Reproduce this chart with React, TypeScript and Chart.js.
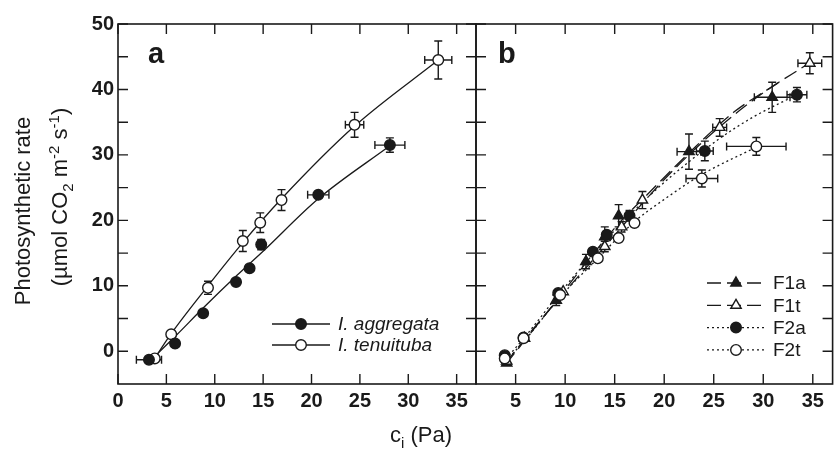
import React, { useEffect, useRef } from "react";
import { Chart, registerables } from "chart.js";
Chart.register(...registerables);

const FONT = "'Liberation Sans', Arial, Helvetica, sans-serif";
const INK = "#1a1a1a";

// ---------- Panel a ----------
const xTicksA = [0, 5, 10, 15, 20, 25, 30, 35];
const xTicksB = [5, 10, 15, 20, 25, 30, 35];
const yTickLabels = [0, 10, 20, 30, 40, 50];
const yMinorTicks = [5, 15, 25, 35, 45];

const aggX = [3.2, 5.9, 8.8, 12.2, 13.6, 14.8, 20.7, 28.1];
const aggY = [-1.3, 1.2, 5.8, 10.6, 12.7, 16.3, 23.9, 31.5];
const aggXErr = [1.3, 0, 0, 0, 0, 0, 1.1, 1.55];
const aggYErr = [0, 0, 0, 0, 0, 0.8, 0, 1.1];

const tenX = [3.8, 5.5, 9.3, 12.9, 14.7, 16.9, 24.45, 33.1];
const tenY = [-1.1, 2.6, 9.7, 16.85, 19.65, 23.1, 34.6, 44.5];
const tenXErr = [0, 0, 0, 0, 0, 0, 0.95, 1.4];
const tenYErr = [0, 0, 1.0, 1.6, 1.5, 1.6, 1.9, 2.9];

const aggCurveX = [3.3, 6, 8.8, 12.3, 14.8, 20.7, 28.1];
const aggCurveY = [-1.5, 2.4, 6.6, 11.6, 15.0, 23.3, 31.4];
const tenCurveX = [3.6, 5.5, 9.3, 12.9, 16.9, 24.45, 33.1];
const tenCurveY = [-1.5, 2.7, 10.0, 16.6, 23.3, 34.4, 44.5];

// ---------- Panel b ----------
const f1aX = [4.1, 9.1, 12.1, 14.0, 15.4, 22.5, 30.9];
const f1aY = [-1.8, 7.8, 13.7, 17.5, 20.7, 30.5, 38.8];
const f1aXErr = [0, 0, 0, 0, 0, 1.2, 1.8];
const f1aYErr = [0, 0.8, 1.1, 1.5, 1.7, 2.7, 2.3];

const f1tX = [4.1, 5.9, 9.8, 14.0, 15.7, 17.8, 25.6, 34.7];
const f1tY = [-1.5, 2.0, 9.1, 16.0, 19.0, 23.1, 34.2, 44.0];
const f1tXErr = [0, 0, 0, 0, 0, 0, 0.7, 1.2];
const f1tYErr = [0, 0, 0, 0.8, 0.8, 1.3, 1.35, 1.6];

const f2aX = [3.9, 5.8, 9.3, 12.8, 14.2, 16.5, 24.1, 33.4];
const f2aY = [-0.6, 2.1, 8.9, 15.2, 17.8, 20.7, 30.6, 39.2];
const f2aXErr = [0, 0, 0, 0, 0, 0, 0.85, 1.0];
const f2aYErr = [0, 0, 0, 0, 0, 0.8, 1.5, 1.1];

const f2tX = [3.9, 5.8, 9.5, 13.3, 15.4, 17.0, 23.8, 29.3];
const f2tY = [-1.1, 2.0, 8.6, 14.2, 17.3, 19.6, 26.4, 31.3];
const f2tXErr = [0, 0, 0, 0, 0, 0, 1.6, 3.0];
const f2tYErr = [0, 0, 0, 0, 0, 0, 1.3, 1.35];

const f1aCurveX = [4, 9, 12, 15.4, 18, 22.5, 27, 31.5];
const f1aCurveY = [-2, 7.5, 13.3, 19.5, 23.5, 30.3, 36.5, 41];
const f1tCurveX = [4, 6, 9.8, 14, 17.8, 21, 25.6, 30, 34.3];
const f1tCurveY = [-1.8, 2.0, 8.8, 16, 22.6, 27.8, 34.3, 39.5, 43.7];
const f2aCurveX = [4, 6, 9.3, 12.8, 16.5, 20, 25.5, 29, 33.4];
const f2aCurveY = [-1.2, 2.3, 8.6, 14.8, 20.8, 25.8, 32.4, 35.8, 39.2];
const f2tCurveX = [4, 6, 9.5, 13.3, 17, 20, 23.8, 29.3];
const f2tCurveY = [-1.5, 1.8, 8.3, 14.2, 19.8, 23.2, 27.0, 31.2];

const legendA = ["I. aggregata", "I. tenuituba"];
const legendB = ["F1a", "F1t", "F2a", "F2t"];

const DASH_F1 = [14, 6];
const DOT_F2 = [2, 3];

const pts = (xs: number[], ys: number[]) => xs.map((x, i) => ({ x, y: ys[i] }));

function markerDs(xs: number[], ys: number[], xe: number[], ye: number[], style: string, filled: boolean) {
  return {
    type: "scatter",
    data: pts(xs, ys),
    xErr: xe,
    yErr: ye,
    showLine: false,
    pointStyle: style,
    pointRadius: style === "triangle" ? 6 : 5.3,
    pointBackgroundColor: filled ? INK : "#ffffff",
    pointBorderColor: INK,
    pointBorderWidth: 1.4,
    order: 0,
  };
}

function curveDs(xs: number[], ys: number[], dash: number[]) {
  return {
    type: "scatter",
    data: pts(xs, ys),
    showLine: true,
    borderColor: INK,
    borderWidth: 1.3,
    borderDash: dash,
    pointRadius: 0,
    cubicInterpolationMode: "monotone",
    order: 1,
  };
}

type Seg = { t: string; k?: "sub" | "sup" };

function drawRich(ctx: CanvasRenderingContext2D, segs: Seg[], size: number) {
  const small = Math.round(size * 0.68);
  const widths = segs.map((s) => {
    ctx.font = `${s.k ? small : size}px ${FONT}`;
    return ctx.measureText(s.t).width;
  });
  const total = widths.reduce((a, b) => a + b, 0);
  let x = -total / 2;
  segs.forEach((s, i) => {
    ctx.font = `${s.k ? small : size}px ${FONT}`;
    const dy = s.k === "sub" ? size * 0.28 : s.k === "sup" ? -size * 0.38 : 0;
    ctx.fillText(s.t, x, dy);
    x += widths[i];
  });
}

type LegendItem = { label: string; style: string; filled: boolean; dash: number[] };

function framePlugin(cfg: {
  xTicks: number[];
  yTicks: number[];
  panel: string;
  panelX: number;
  legend: LegendItem[];
  legX0: number;
  legX1: number;
  legY0: number;
  legDy: number;
  legItalic: boolean;
  titles: boolean;
}) {
  return {
    id: "frame" + cfg.panel,
    beforeDatasetsDraw(chart: any) {
      const ctx: CanvasRenderingContext2D = chart.ctx;
      const xs = chart.scales.x;
      const ys = chart.scales.y;
      ctx.save();
      ctx.strokeStyle = INK;
      ctx.lineWidth = 1.4;
      chart.data.datasets.forEach((ds: any) => {
        if (!ds.xErr) return;
        ds.data.forEach((p: any, i: number) => {
          const px = xs.getPixelForValue(p.x);
          const py = ys.getPixelForValue(p.y);
          const ex = ds.xErr[i];
          const ey = ds.yErr[i];
          ctx.beginPath();
          if (ey > 0) {
            const y1 = ys.getPixelForValue(p.y - ey);
            const y2 = ys.getPixelForValue(p.y + ey);
            ctx.moveTo(px, y1); ctx.lineTo(px, y2);
            ctx.moveTo(px - 4, y1); ctx.lineTo(px + 4, y1);
            ctx.moveTo(px - 4, y2); ctx.lineTo(px + 4, y2);
          }
          if (ex > 0) {
            const x1 = xs.getPixelForValue(p.x - ex);
            const x2 = xs.getPixelForValue(p.x + ex);
            ctx.moveTo(x1, py); ctx.lineTo(x2, py);
            ctx.moveTo(x1, py - 4); ctx.lineTo(x1, py + 4);
            ctx.moveTo(x2, py - 4); ctx.lineTo(x2, py + 4);
          }
          ctx.stroke();
        });
      });
      ctx.restore();
    },
    afterDraw(chart: any) {
      const ctx: CanvasRenderingContext2D = chart.ctx;
      const a = chart.chartArea;
      const xs = chart.scales.x;
      const ys = chart.scales.y;
      ctx.save();
      ctx.strokeStyle = INK;
      ctx.fillStyle = INK;
      ctx.lineWidth = 1.6;
      ctx.strokeRect(a.left, a.top, a.right - a.left, a.bottom - a.top);
      ctx.lineWidth = 1.4;
      ctx.beginPath();
      cfg.xTicks.forEach((v) => {
        const px = xs.getPixelForValue(v);
        ctx.moveTo(px, a.bottom); ctx.lineTo(px, a.bottom - 10);
        ctx.moveTo(px, a.top); ctx.lineTo(px, a.top + 10);
      });
      cfg.yTicks.forEach((v) => {
        const py = ys.getPixelForValue(v);
        ctx.moveTo(a.left, py); ctx.lineTo(a.left + 10, py);
        ctx.moveTo(a.right, py); ctx.lineTo(a.right - 10, py);
      });
      ctx.stroke();

      // panel letter
      ctx.font = `bold 29px ${FONT}`;
      ctx.textAlign = "left";
      ctx.textBaseline = "alphabetic";
      ctx.fillText(cfg.panel, cfg.panelX, 63);

      // legend
      cfg.legend.forEach((it, i) => {
        const y = cfg.legY0 + i * cfg.legDy;
        ctx.save();
        ctx.lineWidth = 1.3;
        ctx.setLineDash(it.dash);
        ctx.beginPath();
        ctx.moveTo(cfg.legX0, y); ctx.lineTo(cfg.legX1, y);
        ctx.stroke();
        ctx.restore();
        const mx = (cfg.legX0 + cfg.legX1) / 2;
        ctx.save();
        ctx.lineWidth = 1.4;
        ctx.fillStyle = it.filled ? INK : "#ffffff";
        ctx.beginPath();
        if (it.style === "triangle") {
          const r = 6;
          ctx.moveTo(mx, y - r);
          ctx.lineTo(mx + r * 0.866, y + r * 0.5);
          ctx.lineTo(mx - r * 0.866, y + r * 0.5);
          ctx.closePath();
        } else {
          ctx.arc(mx, y, 5.3, 0, Math.PI * 2);
        }
        ctx.fill();
        ctx.stroke();
        ctx.restore();
        ctx.font = `${cfg.legItalic ? "italic " : ""}19px ${FONT}`;
        ctx.textBaseline = "middle";
        ctx.textAlign = "left";
        ctx.fillText(it.label, cfg.legX1 + 8, y + 1);
      });

      if (cfg.titles) {
        ctx.textAlign = "left";
        ctx.textBaseline = "alphabetic";
        ctx.save();
        ctx.translate(30, 211);
        ctx.rotate(-Math.PI / 2);
        drawRich(ctx, [{ t: "Photosynthetic rate" }], 22);
        ctx.restore();
        ctx.save();
        ctx.translate(67, 197);
        ctx.rotate(-Math.PI / 2);
        drawRich(
          ctx,
          [
            { t: "(µmol CO" },
            { t: "2", k: "sub" },
            { t: " m" },
            { t: "-2", k: "sup" },
            { t: " s" },
            { t: "-1", k: "sup" },
            { t: ")" },
          ],
          22
        );
        ctx.restore();
        ctx.save();
        ctx.translate(421, 442);
        drawRich(ctx, [{ t: "c" }, { t: "i", k: "sub" }, { t: " (Pa)" }], 22);
        ctx.restore();
      }
      ctx.restore();
    },
  };
}

const tickFont = { family: FONT, size: 20, weight: "bold" as const };

function xScale(min: number, max: number, ticks: number[]) {
  return {
    type: "linear",
    min,
    max,
    afterBuildTicks: (s: any) => {
      s.ticks = ticks.map((v) => ({ value: v }));
    },
    afterFit: (s: any) => {
      s.height = 40;
    },
    grid: { display: false, drawTicks: false },
    border: { display: false },
    ticks: { font: tickFont, color: INK, padding: 5, maxRotation: 0, autoSkip: false },
  };
}

function App() {
  const refA = useRef<HTMLCanvasElement>(null);
  const refB = useRef<HTMLCanvasElement>(null);

  useEffect(() => {
    document.body.style.margin = "0";
    const chartA = new Chart(refA.current as HTMLCanvasElement, {
      type: "scatter",
      data: {
        datasets: [
          markerDs(aggX, aggY, aggXErr, aggYErr, "circle", true),
          markerDs(tenX, tenY, tenXErr, tenYErr, "circle", false),
          curveDs(aggCurveX, aggCurveY, []),
          curveDs(tenCurveX, tenCurveY, []),
        ] as any,
      },
      options: {
        responsive: false,
        animation: false,
        events: [],
        layout: { padding: { left: 58, right: 364, top: 24, bottom: 26 } },
        plugins: { legend: { display: false }, tooltip: { enabled: false } },
        scales: {
          x: xScale(0, 37, xTicksA) as any,
          y: {
            type: "linear",
            min: -5,
            max: 50,
            afterBuildTicks: (s: any) => {
              s.ticks = yTickLabels.map((v) => ({ value: v }));
            },
            afterFit: (s: any) => {
              s.width = 60;
            },
            grid: { display: false, drawTicks: false },
            border: { display: false },
            ticks: { font: tickFont, color: INK, padding: 4 },
          },
        },
      },
      plugins: [
        framePlugin({
          xTicks: xTicksA,
          yTicks: [...yTickLabels, ...yMinorTicks],
          panel: "a",
          panelX: 148,
          legend: [
            { label: legendA[0], style: "circle", filled: true, dash: [] },
            { label: legendA[1], style: "circle", filled: false, dash: [] },
          ],
          legX0: 272,
          legX1: 330,
          legY0: 324,
          legDy: 21,
          legItalic: true,
          titles: true,
        }) as any,
      ],
    });

    const chartB = new Chart(refB.current as HTMLCanvasElement, {
      type: "scatter",
      data: {
        datasets: [
          markerDs(f2tX, f2tY, f2tXErr, f2tYErr, "circle", false),
          markerDs(f2aX, f2aY, f2aXErr, f2aYErr, "circle", true),
          markerDs(f1tX, f1tY, f1tXErr, f1tYErr, "triangle", false),
          markerDs(f1aX, f1aY, f1aXErr, f1aYErr, "triangle", true),
          curveDs(f1aCurveX, f1aCurveY, DASH_F1),
          curveDs(f1tCurveX, f1tCurveY, DASH_F1),
          curveDs(f2aCurveX, f2aCurveY, DOT_F2),
          curveDs(f2tCurveX, f2tCurveY, DOT_F2),
        ] as any,
      },
      options: {
        responsive: false,
        animation: false,
        events: [],
        layout: { padding: { left: 476, right: 7, top: 24, bottom: 26 } },
        plugins: { legend: { display: false }, tooltip: { enabled: false } },
        scales: {
          x: xScale(1, 37, xTicksB) as any,
          y: { type: "linear", min: -5, max: 50, display: false },
        },
      },
      plugins: [
        framePlugin({
          xTicks: xTicksB,
          yTicks: [...yTickLabels, ...yMinorTicks],
          panel: "b",
          panelX: 498,
          legend: [
            { label: legendB[0], style: "triangle", filled: true, dash: DASH_F1 },
            { label: legendB[1], style: "triangle", filled: false, dash: DASH_F1 },
            { label: legendB[2], style: "circle", filled: true, dash: DOT_F2 },
            { label: legendB[3], style: "circle", filled: false, dash: DOT_F2 },
          ],
          legX0: 707,
          legX1: 765,
          legY0: 283,
          legDy: 22.3,
          legItalic: false,
          titles: false,
        }) as any,
      ],
    });

    return () => {
      chartA.destroy();
      chartB.destroy();
    };
  }, []);

  return (
    <div style={{ position: "relative", width: 840, height: 450, background: "#fff" }}>
      <canvas ref={refA} width={840} height={450} style={{ position: "absolute", left: 0, top: 0 }} />
      <canvas ref={refB} width={840} height={450} style={{ position: "absolute", left: 0, top: 0 }} />
    </div>
  );
}

export default App;
